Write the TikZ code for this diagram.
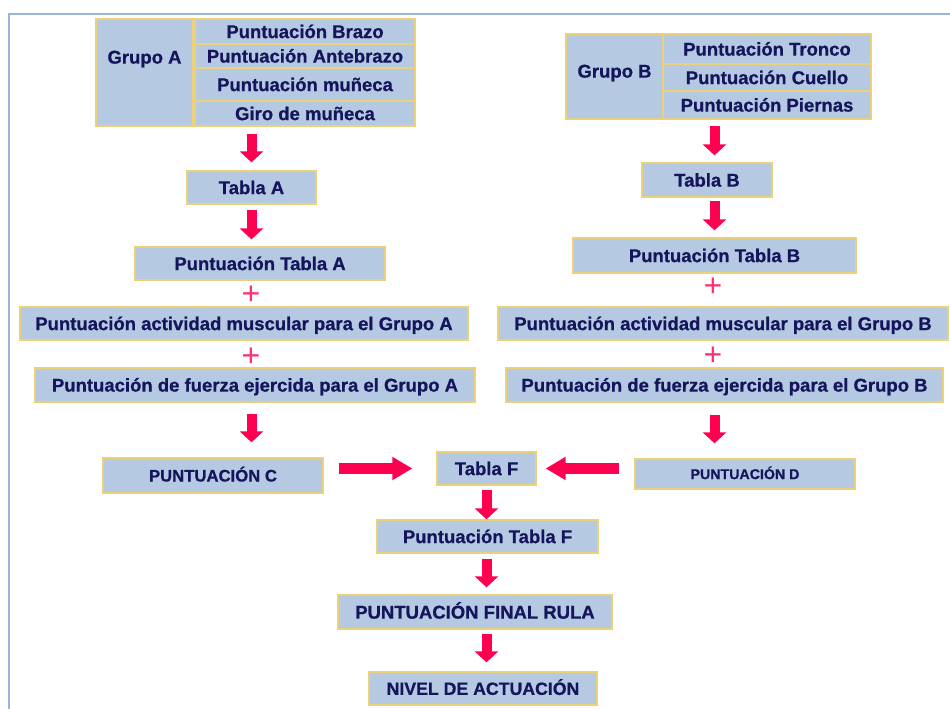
\documentclass[tikz,border=0pt]{standalone}
\usepackage{fontspec}
\setmainfont{Liberation Sans}[BoldFeatures={FakeBold=0.8}]
\usetikzlibrary{arrows.meta}
\definecolor{boxfill}{HTML}{B6C9E3}
\definecolor{boxline}{HTML}{EBD27A}
\definecolor{navy}{HTML}{15155C}
\definecolor{arrred}{HTML}{FF0050}
\definecolor{arredge}{HTML}{FF7A50}
\definecolor{plusred}{HTML}{FF3070}
\definecolor{frameblue}{HTML}{9CB4DA}
\begin{document}
\begin{tikzpicture}[x=1pt,y=-1pt,
  box/.style={draw=boxline, fill=boxfill, line width=1.3pt, inner sep=0pt, text=navy,
    font=\bfseries\fontsize{18.5}{20}\selectfont, text height=13.2pt, text depth=0pt},
  txt/.style={inner sep=0pt, text=navy, font=\bfseries\fontsize{18.5}{20}\selectfont,
    text height=13.2pt, text depth=0pt},
  vdown/.style={draw=arrred, line width=10pt, -{Triangle[width=23pt,length=11pt]}},
  hside/.style={draw=arrred, line width=11pt, -{Triangle[width=22pt,length=20pt]}},
  plus/.style={text=plusred, font=\fontsize{32}{32}\selectfont, inner sep=0pt}]
\useasboundingbox (0,0) rectangle (950,709);
% frame
\coordinate (fTL) at (8.5,14.5);
\coordinate (fTR) at (950,14.5);
\coordinate (fBL) at (8.5,709);
\draw[frameblue, line width=2pt] (fTR) -- (fTL) -- (fBL);

% Grupo A
\node[box, minimum width=319, minimum height=107] (ga) at (255.5,72.5) {};
\node[box, minimum width=97, minimum height=107] (gacell) at (144.5,72.5) {};
\node[txt] (galbl) at (144.5,57) {Grupo A};
\node[box, minimum width=220, minimum height=25] (ra1) at (305,31.5) {Puntuación Brazo};
\node[box, minimum width=220, minimum height=24] (ra2) at (305,56) {Puntuación Antebrazo};
\node[box, minimum width=220, minimum height=33] (ra3) at (305,84.5) {Puntuación muñeca};
\node[box, minimum width=220, minimum height=25] (ra4) at (305,113.5) {Giro de muñeca};

\node[box, minimum width=129, minimum height=33] (tA) at (251.5,187.5) {Tabla A};
\node[box, minimum width=250, minimum height=33] (ptA) at (260,263.5) {Puntuación Tabla A};
\node[plus] (plA1) at (251,295) {+};
\node[box, minimum width=448, minimum height=33] (actA) at (244,323.5) {Puntuación actividad muscular para el Grupo A};
\node[plus] (plA2) at (251,357) {+};
\node[box, minimum width=440, minimum height=34] (fzA) at (255,385) {Puntuación de fuerza ejercida para el Grupo A};
\node[box, minimum width=220, minimum height=35, font=\bfseries\fontsize{16.7}{18}\selectfont, text height=12pt] (pC) at (213,475.5) {PUNTUACIÓN C};

% Grupo B
\node[box, minimum width=305, minimum height=85] (gb) at (718.5,76.5) {};
\node[box, minimum width=97, minimum height=85] (gbcell) at (614.5,76.5) {};
\node[txt] (gblbl) at (614.5,71) {Grupo B};
\node[box, minimum width=208, minimum height=30] (rb1) at (767,49) {Puntuación Tronco};
\node[box, minimum width=208, minimum height=27] (rb2) at (767,77.5) {Puntuación Cuello};
\node[box, minimum width=208, minimum height=28] (rb3) at (767,105) {Puntuación Piernas};

\node[box, minimum width=130, minimum height=34] (tB) at (707,180) {Tabla B};
\node[box, minimum width=283, minimum height=35] (ptB) at (714.5,255.5) {Puntuación Tabla B};
\node[plus] (plB1) at (713,287) {+};
\node[box, minimum width=450, minimum height=33] (actB) at (723,323.5) {Puntuación actividad muscular para el Grupo B};
\node[plus] (plB2) at (713,356) {+};
\node[box, minimum width=437, minimum height=34] (fzB) at (724.5,385) {Puntuación de fuerza ejercida para el Grupo B};
\node[box, minimum width=220, minimum height=30, font=\bfseries\fontsize{14.2}{16}\selectfont, text height=10.2pt] (pD) at (745,474) {PUNTUACIÓN D};

% centre column
\node[box, minimum width=99, minimum height=33] (tF) at (486.5,468.5) {Tabla F};
\node[box, minimum width=221, minimum height=33] (ptF) at (487.5,536.5) {Puntuación Tabla F};
\node[box, minimum width=274, minimum height=34] (fin) at (475,612) {PUNTUACIÓN FINAL RULA};
\node[box, minimum width=228, minimum height=33, font=\bfseries\fontsize{17.7}{19}\selectfont, text height=12.7pt] (niv) at (483,688.5) {NIVEL DE ACTUACIÓN};

% arrows
\draw[vdown, shorten <=7pt, shorten >=8pt] (ga.south -| tA.north) -- (tA.north);
\draw[vdown, shorten <=5pt, shorten >=7pt] (tA.south) -- (ptA.north -| tA.south);
\draw[vdown, shorten <=11pt, shorten >=15pt] (fzA.south -| tA.south) -- (pC.north -| tA.south);

\draw[vdown, shorten <=6pt, shorten >=7pt] (gb.south -| ptB.north) -- (tB.north -| ptB.north);
\draw[vdown, shorten <=3pt, shorten >=7pt] (tB.south -| ptB.north) -- (ptB.north);
\draw[vdown, shorten <=12pt, shorten >=15pt] (fzB.south -| ptB.north) -- (pD.north -| ptB.north);

\draw[hside, shorten <=15pt, shorten >=24pt] (pC.east |- tF.west) -- (tF.west);
\draw[hside, shorten <=15pt, shorten >=9pt] (pD.west |- tF.east) -- (tF.east);

\draw[vdown, shorten <=4pt, shorten >=0pt] (tF.south) -- (ptF.north -| tF.south);
\draw[vdown, shorten <=5pt, shorten >=7pt] (ptF.south -| tF.south) -- (fin.north -| tF.south);
\draw[vdown, shorten <=4pt, shorten >=9pt] (fin.south -| tF.south) -- (niv.north -| tF.south);
\end{tikzpicture}
\end{document}
